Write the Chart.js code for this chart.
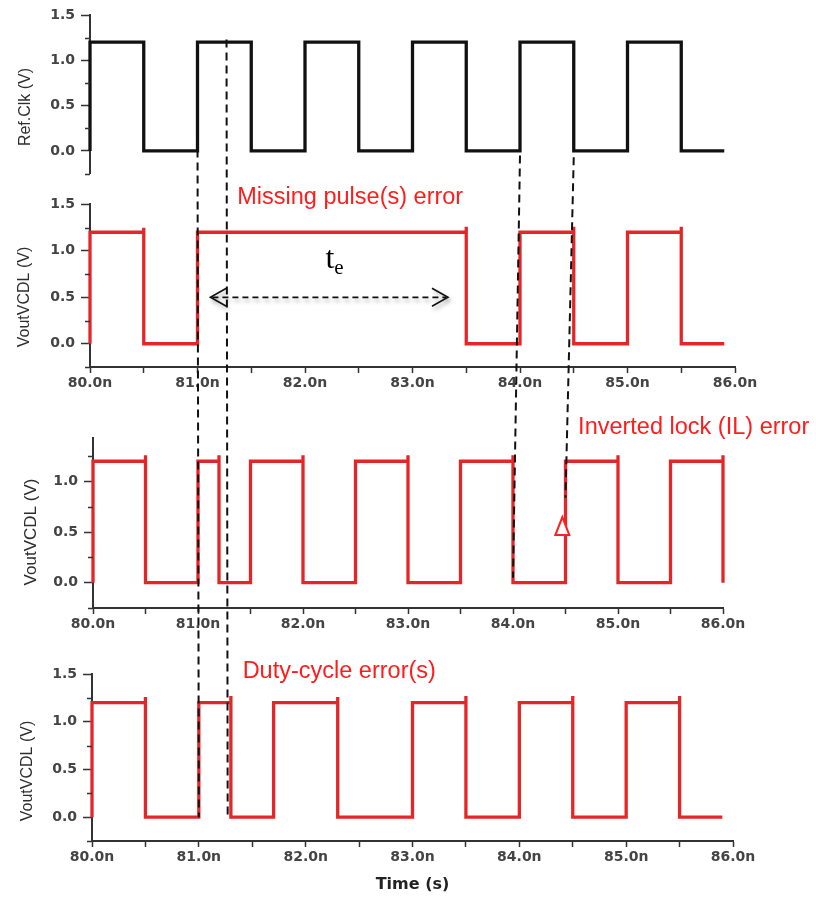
<!DOCTYPE html>
<html><head><meta charset="utf-8">
<script src="https://cdn.jsdelivr.net/npm/chart.js@4.4.1/dist/chart.umd.min.js"></script>
<style>
html,body{margin:0;padding:0;background:#fff;}
#wrap{position:relative;width:816px;height:897px;overflow:hidden;background:#fff;}
#wrap canvas{position:absolute;left:0;}
</style></head><body>
<div id="wrap">
<canvas id="c1" width="816" height="188" style="top:0px"></canvas>
<canvas id="c2" width="816" height="207" style="top:190px"></canvas>
<canvas id="c3" width="816" height="218" style="top:420px"></canvas>
<canvas id="c4" width="816" height="242" style="top:655px"></canvas>
<canvas id="ov" width="816" height="897" style="top:0px;pointer-events:none"></canvas>
</div>
<script>
// ---------------- DATA ----------------
// Each trace: time (ns) where a level starts, and that level (V); drawn as a step line.
const refClkTime  = [80.0, 80.0, 80.5, 81.0, 81.5, 82.0, 82.5, 83.0, 83.5, 84.0, 84.5, 85.0, 85.5, 85.9];
const refClkLevel = [0.0,  1.2,  0.0,  1.2,  0.0,  1.2,  0.0,  1.2,  0.0,  1.2,  0.0,  1.2,  0.0,  0.0];

const missTime  = [80.0, 80.0, 80.5, 80.5, 81.0, 83.5, 83.5, 84.0, 84.5, 84.5, 85.0, 85.5, 85.5, 85.9];
const missLevel = [0.0,  1.2,  1.25, 0.0,  1.2,  1.26, 0.0,  1.2,  1.26, 0.0,  1.2,  1.26, 0.0,  0.0];

const ilTime  = [80.0, 80.0, 80.5, 80.5, 81.0, 81.2, 81.2, 81.5, 82.0, 82.0, 82.5, 83.0, 83.0, 83.5, 84.0, 84.0, 84.5, 85.0, 85.0, 85.5, 86.0, 86.0];
const ilLevel = [0.0,  1.2,  1.26, 0.0,  1.2,  1.26, 0.0,  1.2,  1.26, 0.0,  1.2,  1.26, 0.0,  1.2,  1.26, 0.0,  1.2,  1.26, 0.0,  1.2,  1.26, 0.0];

const dutyTime  = [80.0, 80.0, 80.5, 80.5, 81.0, 81.3, 81.3, 81.7, 82.3, 82.3, 83.0, 83.5, 83.5, 84.0, 84.5, 84.5, 85.0, 85.5, 85.5, 85.9];
const dutyLevel = [0.0,  1.2,  1.26, 0.0,  1.2,  1.27, 0.0,  1.2,  1.26, 0.0,  1.2,  1.27, 0.0,  1.2,  1.27, 0.0,  1.2,  1.27, 0.0,  0.0];

const yTitles = ['Ref.Clk (V)', 'VoutVCDL (V)', 'VoutVCDL (V)', 'VoutVCDL (V)'];
const xTitle = 'Time (s)';
const xTickStep = 0.5;
const yTickStep = 0.25;

// annotations (data coordinates of panels: 0..3)
const guideLines = [
  {x: 81.0,  fromPanel: 0, fromY: 0.16, toPanel: 3, toY: 0.0},
  {x: 81.27, fromPanel: 0, fromY: 1.23, toPanel: 3, toY: 0.02},
  {x: 84.0,  fromPanel: 0, fromY: -0.05, toPanel: 2, toY: 0.05},
  {x: 84.5,  fromPanel: 0, fromY: -0.07, toPanel: 2, toY: 0.84}
];
const teArrow = {panel: 1, x1: 81.12, x2: 83.33, y: 0.5};
const labels = [
  {text: 'Missing pulse(s) error',   panel: 1, x: 81.37, y: 1.5},
  {text: 'Inverted lock (IL) error', panel: 2, x: 84.62, y: 1.465},
  {text: 'Duty-cycle error(s)',      panel: 3, x: 81.41, y: 1.458}
];
const teLabel = {panel: 1, x: 82.19, y: 0.817};
const ilMarker = {panel: 2, x: 84.47, y: 0.55};

// ---------------- CHARTS ----------------
const RED = '#e52629';
const AXIS = '#333';
const TICKFONT = {family: 'DejaVu Sans', weight: 'bold', size: 14};

function toPts(t, v) { return t.map((x, i) => ({x: x, y: v[i]})); }
function isMajorY(v) { return v >= -1e-9 && Math.abs(v * 2 - Math.round(v * 2)) < 1e-6; }
function isMajorX(v) { return Math.abs(v - Math.round(v)) < 1e-6; }

const minorTicks = {
  id: 'minorTicks',
  afterDraw(chart) {
    const s = chart.scales.y, c = chart.ctx;
    c.save();
    c.strokeStyle = AXIS; c.lineWidth = 1.5;
    s.ticks.forEach(t => {
      if (!isMajorY(t.value)) {
        const p = Math.round(s.getPixelForValue(t.value)) + 0.5;
        c.beginPath(); c.moveTo(s.right - 5, p); c.lineTo(s.right, p); c.stroke();
      }
    });
    c.restore();
  }
};

const panels = [
  {id: 'c1', t: refClkTime, v: refClkLevel, color: '#111', left: 90, right: 735, padTop: 15, padBottom: 10, ymax: 1.5, showX: false},
  {id: 'c2', t: missTime, v: missLevel, color: RED, left: 90, right: 735, padTop: 13, padBottom: 0, ymax: 1.5, showX: true, xHeight: 30},
  {id: 'c3', t: ilTime, v: ilLevel, color: RED, left: 93, right: 723, padTop: 18, padBottom: 0, ymax: 1.43, showX: true, xHeight: 30},
  {id: 'c4', t: dutyTime, v: dutyLevel, color: RED, left: 92, right: 733, padTop: 19, padBottom: 0, ymax: 1.5, showX: true, xHeight: 56, xTitle: true}
];

const charts = panels.map(p => new Chart(document.getElementById(p.id), {
  type: 'line',
  data: {datasets: [{
    data: toPts(p.t, p.v), borderColor: p.color, borderWidth: 3.3, pointRadius: 0,
    stepped: 'before', fill: false, tension: 0, borderJoinStyle: 'miter', clip: 6
  }]},
  options: {
    responsive: false, animation: false, events: [],
    layout: {padding: {top: p.padTop, bottom: p.padBottom, left: 0, right: 816 - p.right}},
    plugins: {legend: {display: false}, tooltip: {enabled: false}},
    scales: {
      x: {
        type: 'linear', min: 80, max: 86, display: p.showX,
        ticks: {stepSize: xTickStep, autoSkip: false, maxRotation: 0, includeBounds: false,
          callback: v => isMajorX(v) ? v.toFixed(1) + 'n' : '',
          color: '#444', font: TICKFONT, padding: 2},
        grid: {drawOnChartArea: false, tickLength: 6, tickColor: AXIS, tickWidth: 1.5},
        border: {color: AXIS, width: 2},
        title: p.xTitle ? {display: true, text: xTitle, color: '#222',
          font: {family: 'DejaVu Sans', weight: 'bold', size: 16}, padding: {top: 0, bottom: 3}} : {display: false},
        afterFit: s => { if (p.xHeight) s.height = p.xHeight; }
      },
      y: {
        type: 'linear', min: -0.25, max: p.ymax,
        ticks: {stepSize: yTickStep, autoSkip: false, includeBounds: false,
          callback: v => isMajorY(v) ? v.toFixed(1) : '',
          color: '#444', font: TICKFONT, padding: 6},
        grid: {drawOnChartArea: false, tickLength: 9, tickWidth: 1.5,
          tickColor: ctx => (ctx.tick && isMajorY(ctx.tick.value)) ? AXIS : 'rgba(0,0,0,0)'},
        border: {color: AXIS, width: 2},
        afterFit: s => { s.width = p.left; }
      }
    }
  },
  plugins: [minorTicks]
}));

// ---------------- OVERLAY ANNOTATIONS ----------------
const tops = [0, 190, 420, 655];
function px(panel, x) { return charts[panel].scales.x.getPixelForValue(x); }
function py(panel, y) { return tops[panel] + charts[panel].scales.y.getPixelForValue(y); }

const ov = document.getElementById('ov');
const g = ov.getContext('2d');

// axis titles (rotated)
const yTitlePos = [{x: 26, y: 107, s: 16}, {x: 25, y: 297, s: 16}, {x: 31, y: 532, s: 17}, {x: 28, y: 771, s: 16}];
yTitles.forEach((t, i) => {
  g.save();
  g.translate(yTitlePos[i].x, yTitlePos[i].y);
  g.rotate(-Math.PI / 2);
  g.fillStyle = '#2e2e2e';
  g.font = yTitlePos[i].s + 'px "Liberation Sans", Arial, sans-serif';
  g.textAlign = 'center'; g.textBaseline = 'middle';
  g.fillText(t, 0, 0);
  g.restore();
});

// dashed guide lines
g.save();
g.strokeStyle = '#111'; g.lineWidth = 2; g.setLineDash([8, 5]);
guideLines.forEach(l => {
  g.beginPath();
  g.moveTo(px(l.fromPanel, l.x), py(l.fromPanel, l.fromY));
  g.lineTo(px(l.toPanel, l.x), py(l.toPanel, l.toY));
  g.stroke();
});
g.restore();

// t_e double arrow
(function () {
  const a = teArrow;
  const x1 = px(a.panel, a.x1), x2 = px(a.panel, a.x2), y = py(a.panel, a.y);
  g.save();
  g.shadowColor = 'rgba(0,0,0,0.35)'; g.shadowBlur = 4; g.shadowOffsetX = 2; g.shadowOffsetY = 3;
  g.strokeStyle = '#111'; g.lineWidth = 1.8;
  g.setLineDash([6, 4]);
  g.beginPath(); g.moveTo(x1 + 2, y); g.lineTo(x2 - 2, y); g.stroke();
  g.setLineDash([]);
  g.lineWidth = 1.6;
  g.beginPath(); g.moveTo(x1 + 16, y - 9); g.lineTo(x1, y); g.lineTo(x1 + 16, y + 9); g.stroke();
  g.beginPath(); g.moveTo(x2 - 16, y - 9); g.lineTo(x2, y); g.lineTo(x2 - 16, y + 9); g.stroke();
  g.restore();
})();

// t_e label
(function () {
  const x = px(teLabel.panel, teLabel.x), y = py(teLabel.panel, teLabel.y);
  g.save();
  g.fillStyle = '#000';
  g.textBaseline = 'alphabetic'; g.textAlign = 'left';
  g.font = '32px "Liberation Serif", "Times New Roman", serif';
  g.fillText('t', x, y);
  const w = g.measureText('t').width;
  g.font = '21px "Liberation Serif", "Times New Roman", serif';
  g.fillText('e', x + w, y + 6);
  g.restore();
})();

// red labels
g.save();
g.fillStyle = '#ff1c1c';
g.font = '23.5px "Liberation Sans", Arial, sans-serif';
g.textAlign = 'left'; g.textBaseline = 'alphabetic';
labels.forEach(l => g.fillText(l.text, px(l.panel, l.x), py(l.panel, l.y)));
g.restore();

// open triangle marker
(function () {
  const cx = px(ilMarker.panel, ilMarker.x), cy = py(ilMarker.panel, ilMarker.y);
  g.save();
  g.fillStyle = '#fff'; g.strokeStyle = '#ff2020'; g.lineWidth = 2;
  g.beginPath(); g.moveTo(cx, cy - 10); g.lineTo(cx + 7, cy + 8); g.lineTo(cx - 7, cy + 8); g.closePath();
  g.fill(); g.stroke();
  g.restore();
})();
</script>
</body></html>
